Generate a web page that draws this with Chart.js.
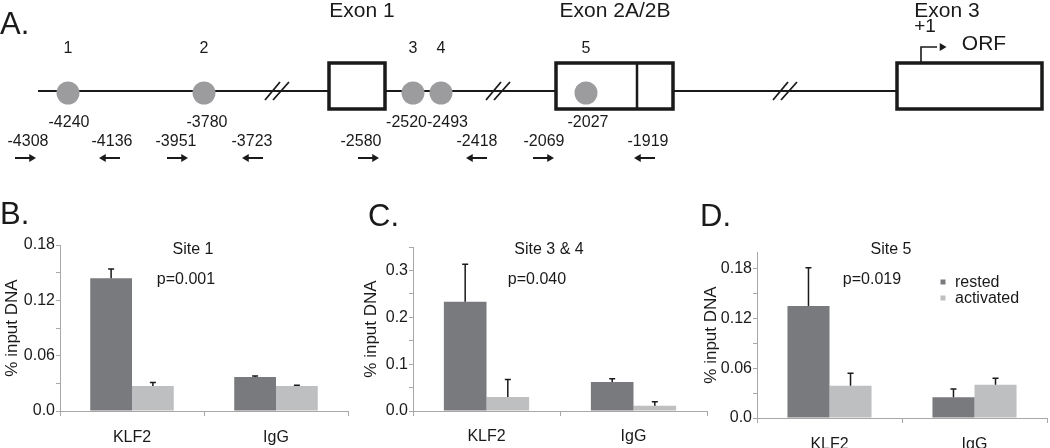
<!DOCTYPE html>
<html>
<head>
<meta charset="utf-8">
<script src="https://cdn.jsdelivr.net/npm/chart.js"></script>
<style>
body { margin: 0; background: #fff; width: 1050px; height: 448px; overflow: hidden; position: relative; font-family: "Liberation Sans", Arial, sans-serif; }
canvas { position: absolute; }
.panel { position: absolute; font-size: 31px; line-height: 30px; color: #1a1a1a; }
</style>
</head>
<body>
<canvas id="geneMap" width="1050" height="190" style="left:0;top:0"></canvas>
<canvas id="site1" width="350" height="258" style="left:0;top:190px"></canvas>
<canvas id="site34" width="360" height="258" style="left:350px;top:190px"></canvas>
<canvas id="site5" width="360" height="258" style="left:690px;top:190px"></canvas>
<div class="panel" style="left:0;top:9px">A.</div>
<div class="panel" style="left:0;top:199px">B.</div>
<div class="panel" style="left:368px;top:201px">C.</div>
<div class="panel" style="left:700px;top:201px">D.</div>
<script>
// ---- ChIP data (% input DNA) ----
var categories = ['KLF2', 'IgG'];
var seriesNames = ['rested', 'activated'];

var site1Rested = [0.144, 0.037];
var site1RestedErr = [0.010, 0.001];
var site1Activated = [0.027, 0.027];
var site1ActivatedErr = [0.004, 0.001];
var site1Ticks = [0, 0.03, 0.06, 0.09, 0.12, 0.15, 0.18];
var site1TickLabels = ['0.0', '', '0.06', '', '0.12', '', '0.18'];

var site34Rested = [0.233, 0.062];
var site34RestedErr = [0.080, 0.007];
var site34Activated = [0.030, 0.011];
var site34ActivatedErr = [0.037, 0.009];
var site34Ticks = [0, 0.05, 0.1, 0.15, 0.2, 0.25, 0.3, 0.35];
var site34TickLabels = ['0.0', '', '0.1', '', '0.2', '', '0.3', ''];

var site5Rested = [0.135, 0.025];
var site5RestedErr = [0.046, 0.010];
var site5Activated = [0.039, 0.040];
var site5ActivatedErr = [0.015, 0.008];
var site5Ticks = [0, 0.03, 0.06, 0.09, 0.12, 0.15, 0.18];
var site5TickLabels = ['0.0', '', '0.06', '', '0.12', '', '0.18'];

// ---- gene map, schematic units (not to scale) ----
var backboneX = [38, 329, null, 385, 556, null, 673, 897];
var exonBoxes = [[329, 385], [556, 673], [897, 1042]];
var exonNames = ['Exon 1', 'Exon 2A/2B', 'Exon 3'];
var exonNameX = [362, 615, 947];
var exon2Split = 637;
var breakX = [277, 498, 785];
var siteNums = ['1', '2', '3', '4', '5'];
var siteX = [68, 204, 413, 441, 586];
var siteCoordLabels = ['-4240', '-3780', '-2520-2493', '-2027'];
var siteCoordX = [69, 207, 427, 588];
var primerLabels = ['-4308', '-4136', '-3951', '-3723', '-2580', '-2418', '-2069', '-1919'];
var primerLabelX = [28, 112, 176, 252, 361, 477, 544, 648];
var primerTail = [15, 120, 167, 263, 358, 487, 533, 655];
var primerDir = [1, -1, 1, -1, 1, -1, 1, -1];
var tssX = 921;

var ink = '#1a1a1a';
var axisGrey = '#a8a8a8';
var darkBar = '#797a7d';
var lightBar = '#bebfc1';
var dotGrey = '#9c9c9e';
var fontFam = "'Liberation Sans', Arial, sans-serif";
Chart.defaults.font.family = fontFam;
Chart.defaults.color = ink;

// y levels of the map
var lineY = 91, boxTop = 63, boxBottom = 109, dotY = 93, primerY = 158;

function pts(xs, y) {
    return xs.map(function (x) { return { x: x, y: x === null ? null : y }; });
}

var breakData = [];
breakX.forEach(function (c) {
    breakData.push({ x: c - 12, y: 100 }, { x: c + 3, y: 82 }, { x: c, y: null });
    breakData.push({ x: c - 4, y: 100 }, { x: c + 12, y: 82 }, { x: c, y: null });
});

var shaftData = [], headData = [], headRot = [];
primerTail.forEach(function (t, i) {
    var d = primerDir[i];
    var tip = t + d * 21;
    shaftData.push({ x: t, y: primerY }, { x: tip - d * 6, y: primerY }, { x: t, y: null });
    headData.push({ x: tip - d * 4.5, y: primerY });
    headRot.push(d > 0 ? 90 : 270);
});
headData.push({ x: tssX + 21, y: 47 });
headRot.push(90);

var mapSets = [
    { data: pts(siteX, dotY), showLine: false, pointRadius: 11.5, pointBackgroundColor: dotGrey, pointBorderWidth: 0 },
    { data: headData, showLine: false, pointStyle: 'triangle', pointRadius: 4.5, pointRotation: headRot, pointBackgroundColor: ink, pointBorderWidth: 0 },
    { data: shaftData, borderWidth: 2, borderColor: ink, pointRadius: 0 },
    { data: [{ x: tssX, y: boxTop }, { x: tssX, y: 47 }, { x: tssX + 16, y: 47 }], borderWidth: 1.6, borderColor: ink, pointRadius: 0, borderJoinStyle: 'miter' },
    { data: [{ x: exon2Split, y: boxTop }, { x: exon2Split, y: boxBottom }], borderWidth: 2.5, borderColor: ink, pointRadius: 0 },
    { data: breakData, borderWidth: 1.8, borderColor: ink, pointRadius: 0 }
];
exonBoxes.forEach(function (b) {
    mapSets.push({
        data: [{ x: b[0], y: boxTop }, { x: b[1], y: boxTop }, { x: b[1], y: boxBottom }, { x: b[0], y: boxBottom }, { x: b[0], y: boxTop }],
        borderWidth: 3.5, borderColor: ink, pointRadius: 0, borderJoinStyle: 'miter', borderCapStyle: 'square'
    });
});
mapSets.push({ data: pts(backboneX, lineY), borderWidth: 2.2, borderColor: ink, pointRadius: 0 });

var mapText = {
    id: 'mapText',
    afterDatasetsDraw: function (chart) {
        var ctx = chart.ctx, sx = chart.scales.x, sy = chart.scales.y;
        function put(txt, x, y, size) {
            ctx.font = size + 'px ' + fontFam;
            ctx.fillText(txt, sx.getPixelForValue(x), sy.getPixelForValue(y));
        }
        ctx.save();
        ctx.fillStyle = ink;
        ctx.textAlign = 'center';
        ctx.textBaseline = 'alphabetic';
        exonNames.forEach(function (t, i) { put(t, exonNameX[i], 17, 21); });
        siteNums.forEach(function (t, i) { put(t, siteX[i], 53, 16); });
        siteCoordLabels.forEach(function (t, i) { put(t, siteCoordX[i], 127, 16); });
        primerLabels.forEach(function (t, i) { put(t, primerLabelX[i], 146, 16); });
        put('+1', tssX + 4, 32, 19);
        put('ORF', 984, 50, 21);
        ctx.restore();
    }
};

new Chart(document.getElementById('geneMap'), {
    type: 'line',
    data: { datasets: mapSets },
    options: {
        responsive: false,
        animation: false,
        events: [],
        layout: { padding: 0, autoPadding: false },
        plugins: { legend: { display: false }, tooltip: { enabled: false } },
        scales: {
            x: { type: 'linear', min: 0, max: 1050, display: false },
            y: { type: 'linear', min: 0, max: 190, reverse: true, display: false }
        }
    },
    plugins: [mapText]
});

// ---- bar panels ----
var barNotes = {
    id: 'barNotes',
    afterDatasetsDraw: function (chart, args, opts) {
        var ctx = chart.ctx, sy = chart.scales.y;
        ctx.save();
        ctx.strokeStyle = ink;
        ctx.lineWidth = 1.5;
        chart.data.datasets.forEach(function (ds, di) {
            chart.getDatasetMeta(di).data.forEach(function (bar, i) {
                var top = sy.getPixelForValue(ds.data[i] + ds.errors[i]);
                ctx.beginPath();
                ctx.moveTo(bar.x, bar.y);
                ctx.lineTo(bar.x, top);
                ctx.moveTo(bar.x - 3, top);
                ctx.lineTo(bar.x + 3, top);
                ctx.stroke();
            });
        });
        ctx.fillStyle = ink;
        ctx.font = '16px ' + fontFam;
        ctx.textAlign = 'center';
        ctx.textBaseline = 'middle';
        ctx.fillText(opts.title, opts.titleAt[0], opts.titleAt[1]);
        ctx.fillText(opts.p, opts.pAt[0], opts.pAt[1]);
        if (opts.legendAt) {
            ctx.textAlign = 'left';
            chart.data.datasets.forEach(function (ds, di) {
                var lx = opts.legendAt[0], ly = opts.legendAt[1] + di * 16;
                ctx.fillStyle = ds.backgroundColor;
                ctx.fillRect(lx - 2.5, ly - 2.5, 5, 5);
                ctx.fillStyle = ink;
                ctx.fillText(ds.label, lx + 12, ly + 1);
            });
        }
        ctx.restore();
    }
};

function barPanel(id, rested, restedErr, activated, activatedErr, ticks, tickLabels, yMax, box, notes) {
    new Chart(document.getElementById(id), {
        type: 'bar',
        data: {
            labels: categories,
            datasets: [
                { label: seriesNames[0], data: rested, errors: restedErr, backgroundColor: darkBar },
                { label: seriesNames[1], data: activated, errors: activatedErr, backgroundColor: lightBar }
            ]
        },
        options: {
            responsive: false,
            animation: false,
            events: [],
            categoryPercentage: 0.58,
            barPercentage: 1.0,
            layout: { padding: { left: 0, top: box.top, right: box.right, bottom: 0 } },
            plugins: { legend: { display: false }, tooltip: { enabled: false }, barNotes: notes },
            scales: {
                x: {
                    afterFit: function (s) { s.height = box.xHeight; },
                    ticks: { font: { size: 16 }, color: ink, padding: box.xPad },
                    grid: { drawOnChartArea: false, tickLength: 5, color: axisGrey, offset: true },
                    border: { color: axisGrey }
                },
                y: {
                    min: 0,
                    max: yMax,
                    afterBuildTicks: function (s) { s.ticks = ticks.map(function (v) { return { value: v }; }); },
                    afterFit: function (s) { s.width = box.yWidth; },
                    ticks: { autoSkip: false, font: { size: 16 }, color: ink, padding: 1, callback: function (v, i) { return tickLabels[i]; } },
                    grid: { drawOnChartArea: false, tickLength: 4, color: axisGrey },
                    border: { color: axisGrey },
                    title: { display: true, text: '% input DNA', font: { size: 17 }, color: ink, padding: { top: box.titlePad, bottom: 0 } }
                }
            }
        },
        plugins: [barNotes]
    });
}

barPanel('site1', site1Rested, site1RestedErr, site1Activated, site1ActivatedErr, site1Ticks, site1TickLabels, 0.18,
    { top: 55, right: 2, xHeight: 37, xPad: 12, yWidth: 60, titlePad: 2 },
    { title: 'Site 1', titleAt: [193, 60], p: 'p=0.001', pAt: [186, 90] });
barPanel('site34', site34Rested, site34RestedErr, site34Activated, site34ActivatedErr, site34Ticks, site34TickLabels, 0.35,
    { top: 57, right: 3, xHeight: 37, xPad: 11, yWidth: 63, titlePad: 11 },
    { title: 'Site 3 & 4', titleAt: [199, 60], p: 'p=0.040', pAt: [187, 90] });
barPanel('site5', site5Rested, site5RestedErr, site5Activated, site5ActivatedErr, site5Ticks, site5TickLabels, 0.2,
    { top: 62, right: 3, xHeight: 30, xPad: 12, yWidth: 67, titlePad: 11 },
    { title: 'Site 5', titleAt: [201, 60], p: 'p=0.019', pAt: [182, 90], legendAt: [253, 92] });
</script>
</body>
</html>
